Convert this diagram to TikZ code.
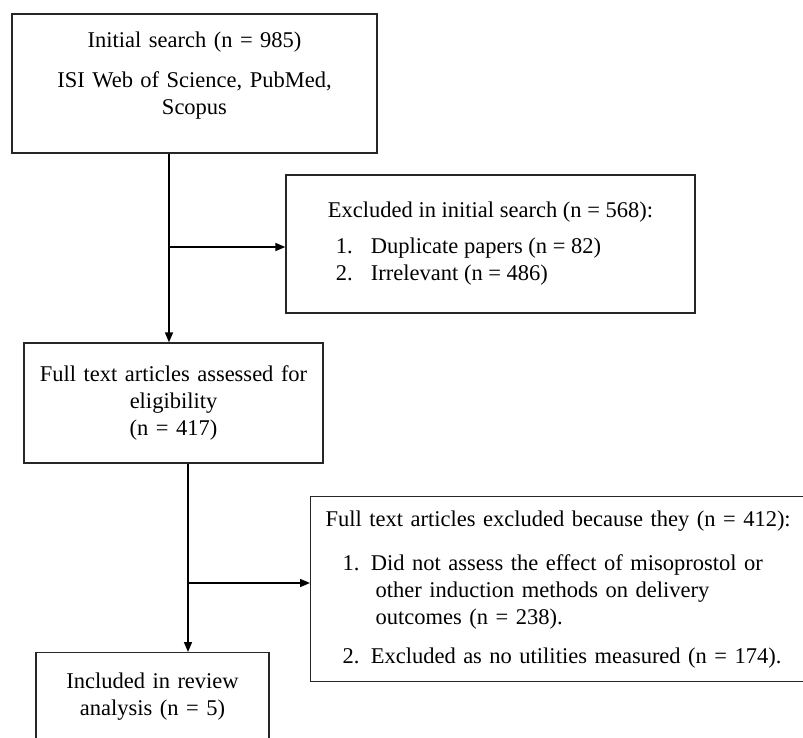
\documentclass[tikz,border=0pt]{standalone}
\usepackage{fontspec}
\setmainfont{Liberation Serif}
\usetikzlibrary{arrows.meta, positioning}
\newcommand{\pfsize}{\fontsize{22.5}{27}\selectfont}
\tikzset{
  >={Triangle[length=10pt, width=8pt]},
  pf box/.style={draw=black!85, fill=white, line width=1.3pt, inner ysep=0pt,
    font=\pfsize},
  pf flow/.style={draw=black, ->, line width=1.5pt},
}

\begin{document}
\begin{tikzpicture}[x=1pt, y=1pt]
 \useasboundingbox (0,0) rectangle (803,-737);
 \clip (0,0) rectangle (803,-737);
 \node[pf box, text width=325pt, inner xsep=20pt, minimum height=139pt,
   align=center, text depth=88pt] (search) at (194.5,-83.5)
   {Initial search (n = 985)\\[13pt] ISI Web of Science, PubMed,\\ Scopus};
 \node[pf box, minimum width=409pt, minimum height=138pt, align=left] (excl1)
   at (490.5,-244)
   {Excluded in initial search (n = 568):\\[9pt]
    \hspace*{8pt}\makebox[35pt][l]{1.}Duplicate papers (n = 82)\\
    \hspace*{8pt}\makebox[35pt][l]{2.}Irrelevant (n = 486)};
 \node[pf box, text width=279pt, inner xsep=10pt, minimum height=120pt,
   align=center] (assess) at (173.5,-403)
   {Full text articles assessed for\\ eligibility\\ (n = 417)};
 \node[pf box, anchor=north west, text width=490pt, inner xsep=15pt,
   minimum height=185pt, align=left] (excl2) at (310,-496)
   {Full text articles excluded because they (n = 412):\\[17pt]
    \hspace*{17pt}1. Did not assess the effect of misoprostol or\\
    \hspace*{50pt}other induction methods on delivery\\
    \hspace*{50pt}outcomes (n = 238).\\[12pt]
    \hspace*{17pt}2. Excluded as no utilities measured (n = 174).};
 \node[pf box, anchor=north, text width=213pt, inner xsep=10pt,
   minimum height=88pt, align=center] (incl) at (152.5,-652)
   {Included in review\\ analysis (n = 5)};
 % spines and branch points
 \coordinate (spine1) at (169,0);
 \coordinate (branch1) at (169,-247);
 \coordinate (branch2) at (188,-583);
 \draw[pf flow] (search.south -| spine1) -- (assess.north -| spine1);
 \draw[pf flow] (branch1) -- (branch1 -| excl1.west);
 \draw[pf flow] (assess.south -| branch2) -- (incl.north -| branch2);
 \draw[pf flow] (branch2) -- (branch2 -| excl2.west);
\end{tikzpicture}
\end{document}
